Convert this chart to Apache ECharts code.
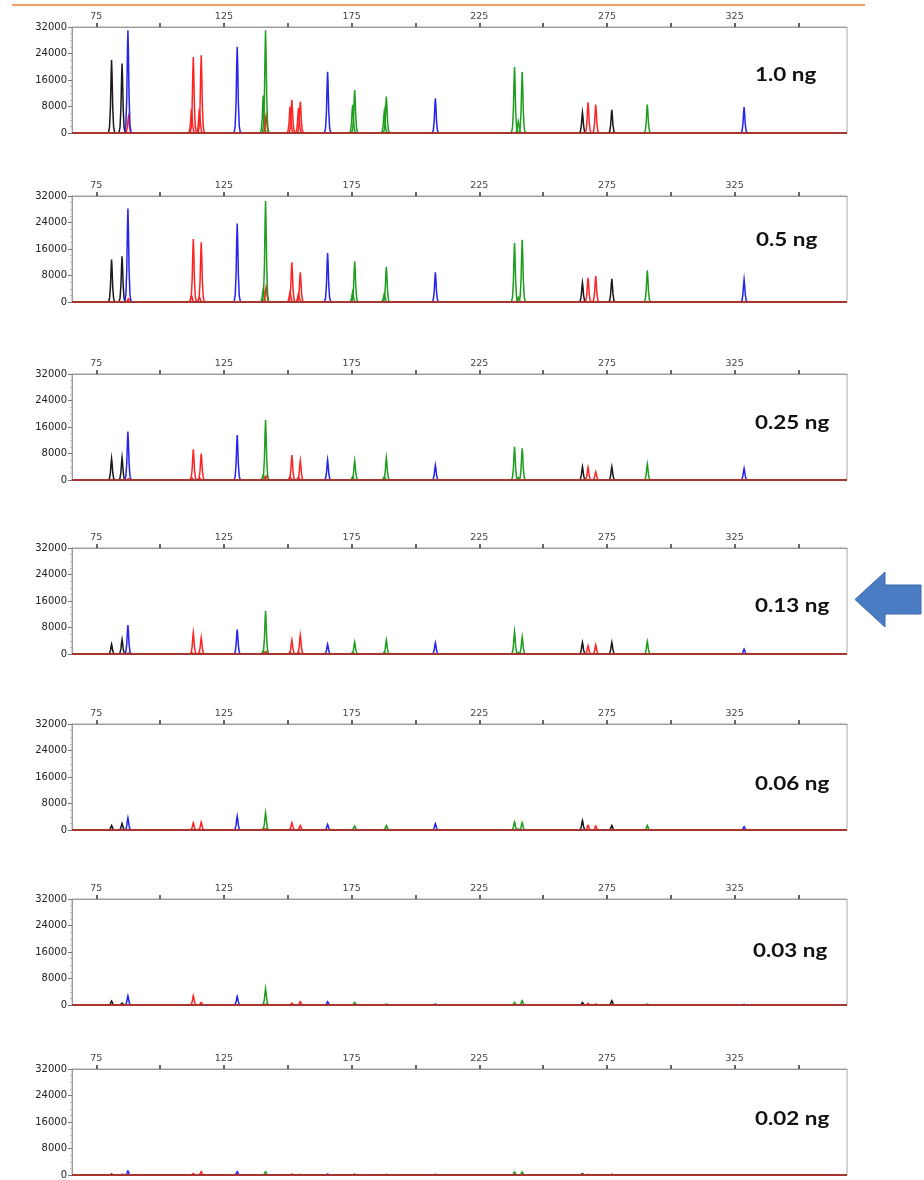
<!DOCTYPE html>
<html>
<head>
<meta charset="utf-8">
<script src="https://cdn.jsdelivr.net/npm/echarts@6/dist/echarts.min.js"></script>
<style>
html,body{margin:0;padding:0;background:#fff;}
#chart{width:924px;height:1180px;}
</style>
</head>
<body>
<div id="chart"></div>
<script>
// ---------------- DATA ----------------
const panelLabels = ['1.0 ng', '0.5 ng', '0.25 ng', '0.13 ng', '0.06 ng', '0.03 ng', '0.02 ng'];
const xLabelValues = [75, 125, 175, 225, 275, 325];
const xTickValues = [75, 100, 125, 150, 175, 200, 225, 250, 275, 300, 325, 350];
const yTickValues = [0, 8000, 16000, 24000, 32000];

// peak sizes (bp) per dye, heights (RFU) per panel
const blackPos = [81.0, 85.1, 265.4, 276.9];
const blackH = [
  [22000, 21000, 6200, 7000],
  [12800, 13800, 5800, 7000],
  [6500, 6800, 4000, 4000],
  [3000, 4400, 3500, 3500],
  [1400, 2000, 2900, 1400],
  [1200, 600, 800, 1300],
  [300, 200, 400, 200]
];
const bluePos = [87.4, 130.2, 165.6, 207.8, 328.7];
const blueH = [
  [31000, 26000, 18500, 10500, 7800],
  [28200, 23700, 14800, 9000, 6800],
  [14600, 13600, 6000, 4500, 3500],
  [8700, 7400, 3000, 3400, 1500],
  [3700, 4200, 1700, 1900, 1000],
  [2800, 2600, 1000, 300, 200],
  [1200, 1000, 300, 200, 100]
];
const greenPos = [141.3, 176.2, 188.6, 238.8, 241.8, 290.8];
const greenH = [
  [31000, 13000, 11000, 19900, 18400, 8600],
  [30500, 12300, 10600, 17800, 18800, 9600],
  [18100, 5800, 6700, 10000, 9600, 4800],
  [13000, 3600, 4200, 6800, 5200, 3800],
  [5200, 1200, 1400, 2400, 2200, 1400],
  [5000, 800, 300, 800, 1300, 300],
  [1000, 300, 200, 900, 900, 100]
];
const redPos = [113.0, 116.1, 151.6, 154.9, 267.6, 270.6];
const redH = [
  [22900, 23500, 10000, 9500, 9300, 8600],
  [19000, 18000, 12000, 9000, 7300, 7800],
  [9300, 8000, 7500, 5800, 3800, 2500],
  [6400, 5000, 4200, 5700, 2500, 2800],
  [2200, 2400, 2200, 1400, 1400, 1200],
  [2800, 800, 600, 1000, 500, 300],
  [400, 1000, 300, 200, 200, 100]
];
// minor (stutter / pull-up) peaks
const redMinorPos = [87.6, 112.3, 115.4, 141.5, 150.9, 154.2];
const redMinorH = [
  [4900, 7300, 7300, 5200, 8000, 7500],
  [1000, 2000, 1500, 4500, 3000, 2500],
  [400, 800, 700, 1200, 1000, 800],
  [300, 500, 400, 800, 600, 600],
  [200, 300, 300, 400, 300, 200],
  [100, 200, 100, 300, 100, 100],
  [0, 0, 0, 100, 0, 0]
];
const greenMinorPos = [140.4, 175.4, 187.8, 240.3];
const greenMinorH = [
  [11300, 8500, 6500, 3500],
  [4000, 3000, 2500, 1500],
  [1500, 900, 1000, 800],
  [1000, 500, 600, 500],
  [400, 200, 200, 300],
  [300, 100, 100, 100],
  [100, 0, 0, 100]
];

// ---------------- STYLE / LAYOUT ----------------
const panelTop = [27, 196, 374, 548, 724, 899, 1069];
const panelHeight = 106;
const titleY = [75, 240, 423, 606, 784, 951, 1119];
const titleX = [755, 756, 755, 755, 755, 753, 755];
const dyeColors = ['#1a1a1a', '#2424f0', '#1e9e1e', '#ff2424'];
const X_MIN = 65.5, X_MAX = 369;
const shapeOff = [-1.25, -0.8, -0.45, -0.18, 0, 0.18, 0.45, 0.8, 1.25];
const shapeVal = [0, 0.08, 0.35, 0.8, 1, 0.8, 0.35, 0.08, 0];

function buildPanelData(p) {
  const items = [];
  const add = (pos, hs, dye) => pos.forEach((x, i) => { if (hs[p][i] > 0) items.push([x, hs[p][i], dye]); });
  add(greenMinorPos, greenMinorH, 2);
  add(redMinorPos, redMinorH, 3);
  add(greenPos, greenH, 2);
  add(blackPos, blackH, 0);
  add(redPos, redH, 3);
  add(bluePos, blueH, 1);
  return items;
}

const grids = [], xAxes = [], yAxes = [], series = [], graphics = [];
panelLabels.forEach((lab, p) => {
  grids.push({
    left: 72, right: 77, top: panelTop[p], height: panelHeight,
    show: true, borderColor: '#a8a8a8', borderWidth: 1, backgroundColor: 'transparent'
  });
  xAxes.push({
    type: 'value', gridIndex: p, position: 'top', min: X_MIN, max: X_MAX,
    axisLine: { show: true, onZero: false, lineStyle: { color: '#9a9a9a', width: 1 } },
    axisTick: { show: true, customValues: xTickValues, length: 4, lineStyle: { color: '#333', width: 1.5 } },
    axisLabel: { show: true, customValues: xLabelValues, margin: 5, color: '#444',
      fontFamily: 'DejaVu Sans', fontSize: 9.5 },
    splitLine: { show: false }
  });
  yAxes.push({
    type: 'value', gridIndex: p, min: 0, max: 32000, interval: 8000,
    axisLine: { show: true, onZero: false, lineStyle: { color: '#9a9a9a' } },
    axisTick: { show: true, length: 4, lineStyle: { color: '#777' } },
    minorTick: { show: true, splitNumber: 4, length: 2, lineStyle: { color: '#bbb' } },
    axisLabel: { margin: 5, color: '#222', fontFamily: 'DejaVu Sans', fontSize: 10,
      formatter: (v) => String(v) },
    splitLine: { show: false }
  });
  series.push({
    type: 'custom', xAxisIndex: p, yAxisIndex: p,
    data: buildPanelData(p),
    encode: { x: 0, y: 1 },
    clip: true,
    renderItem: function (params, api) {
      const pos = api.value(0), h = api.value(1), dye = api.value(2);
      const pts = shapeOff.map((d, i) => api.coord([pos + d, h * shapeVal[i]]));
      return {
        type: 'polyline',
        shape: { points: pts },
        style: { stroke: dyeColors[dye], lineWidth: 1.5, fill: null }
      };
    },
    z: 2, silent: true
  });
  series.push({
    type: 'line', xAxisIndex: p, yAxisIndex: p,
    data: [[X_MIN, 0], [X_MAX, 0]],
    symbol: 'none', lineStyle: { color: '#a8352f', width: 2 },
    z: 3, silent: true
  });
  graphics.push({
    type: 'text', x: titleX[p], y: titleY[p], scaleX: 1.18,
    style: { text: lab, font: 'bold 19px Lato', fill: '#111', textVerticalAlign: 'middle', textAlign: 'left' }
  });
});

// top orange rule
graphics.push({ type: 'line', shape: { x1: 12, y1: 5, x2: 865, y2: 5 }, style: { stroke: '#ED7D31', lineWidth: 1.5 } });
// blue arrow pointing at 0.13 ng panel
graphics.push({
  type: 'polygon',
  shape: { points: [[855, 599.5], [885, 572], [885, 585], [921, 585], [921, 614], [885, 614], [885, 627]] },
  style: { fill: '#4a7cc4', stroke: '#3d68a8', lineWidth: 1 }
});

const chart = echarts.init(document.getElementById('chart'), null, { renderer: 'canvas' });
chart.setOption({
  animation: false,
  backgroundColor: '#ffffff',
  grid: grids,
  xAxis: xAxes,
  yAxis: yAxes,
  series: series,
  graphic: graphics
});
</script>
</body>
</html>
